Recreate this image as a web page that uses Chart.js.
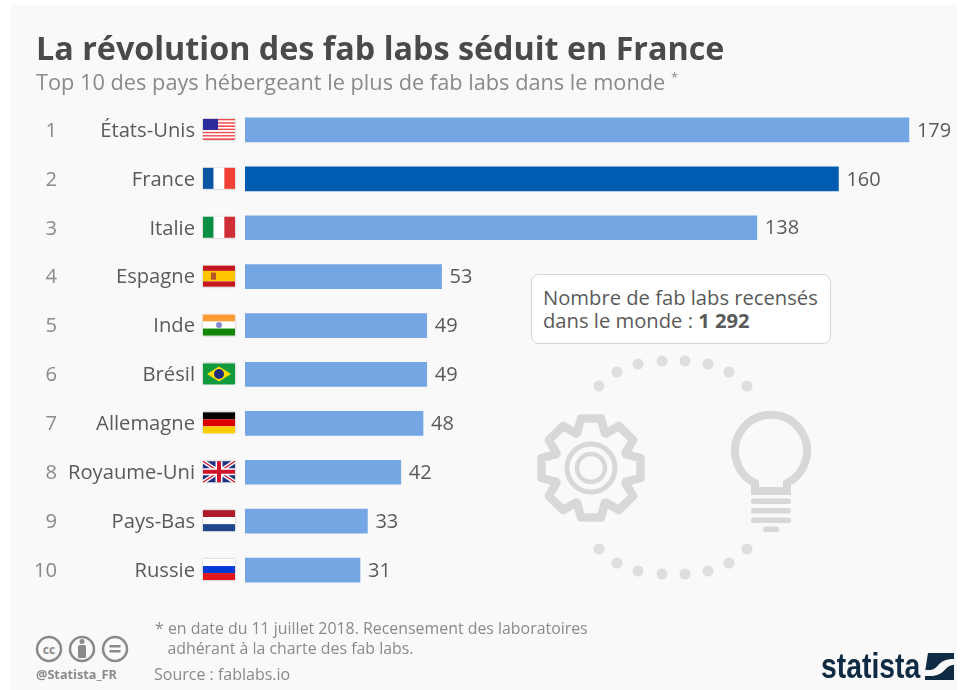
<!DOCTYPE html>
<html lang="fr">
<head>
<meta charset="utf-8">
<title>La révolution des fab labs séduit en France</title>
<script src="https://cdn.jsdelivr.net/npm/chart.js@4"></script>
<style>
    html, body { margin: 0; padding: 0; background: #fff; }
    body { width: 967px; height: 690px; position: relative; overflow: hidden; font-family: "Open Sans", sans-serif; }
    #panel { position: absolute; left: 10px; top: 5px; width: 947px; height: 685px; background: #f9f9f9; }
    #chartBox { position: absolute; left: 0; top: 0; width: 967px; height: 690px; }
    .txt { position: absolute; white-space: nowrap; }
    #title { left: 36px; top: 24.5px; font-size: 32.3px; line-height: 44px; font-weight: 700; color: #4a4a4a; }
    #subtitle { left: 36px; top: 68px; font-size: 21.75px; line-height: 28px; color: #8a8a8a; }
    #callout { position: absolute; left: 531px; top: 274px; width: 298px; height: 68px; box-sizing: content-box; background: #fff; border: 1.5px solid #d4d4d4; border-radius: 8px; }
    #callout div { position: absolute; left: 11px; top: 11px; font-size: 20.2px; line-height: 23px; color: #5a5a5a; white-space: nowrap; }
    #note { left: 155px; top: 619px; font-size: 15.9px; line-height: 19.5px; color: #8a8a8a; }
    #source { left: 154px; top: 663px; font-size: 16px; line-height: 22px; color: #8a8a8a; }
    #handle { left: 36px; top: 666px; font-size: 12.7px; line-height: 16px; font-weight: 700; color: #8a8a8a; }
    #logo { left: 821px; top: 645px; font-family: "Liberation Sans", sans-serif; font-size: 35px; line-height: 42px; font-weight: 700; color: #0f2a43; transform: scaleX(0.81); transform-origin: left center; }
    svg { position: absolute; left: 0; top: 0; }
</style>
</head>
<body>
<div id="panel"></div>
<svg id="deco" width="967" height="690"></svg>
<div id="chartBox"><canvas id="fabChart"></canvas></div>
<div class="txt" id="title">La révolution des fab labs séduit en France</div>
<div class="txt" id="subtitle">Top 10 des pays hébergeant le plus de fab labs dans le monde <sup style="font-size:13px;line-height:0">*</sup></div>
<div id="callout"><div>Nombre de fab labs recensés<br>dans le monde : <b>1 292</b></div></div>
<div class="txt" id="note">* en date du 11 juillet 2018. Recensement des laboratoires<br>&nbsp;&nbsp;&nbsp;adhérant à la charte des fab labs.</div>
<div class="txt" id="source">Source : fablabs.io</div>
<div class="txt" id="handle">@Statista_FR</div>
<div class="txt" id="logo">statista</div>
<script>
var countries = ['États-Unis', 'France', 'Italie', 'Espagne', 'Inde', 'Brésil', 'Allemagne', 'Royaume-Uni', 'Pays-Bas', 'Russie'];
var ranks = ['1', '2', '3', '4', '5', '6', '7', '8', '9', '10'];
var fabLabs = [179, 160, 138, 53, 49, 49, 48, 42, 33, 31];
var highlighted = 'France';

// flag helpers, x/y is the top left corner of a 32x21 flag
function hStripes(c, x, y, cols, weights) {
    var total = weights.reduce(function (a, b) { return a + b; }, 0), cy = y;
    cols.forEach(function (col, i) {
        var h = 21 * weights[i] / total;
        c.fillStyle = col;
        c.fillRect(x, cy, 32, h);
        cy += h;
    });
}
function vStripes(c, x, y, cols) {
    cols.forEach(function (col, i) {
        c.fillStyle = col;
        c.fillRect(x + i * 32 / cols.length, y, 32 / cols.length, 21);
    });
}
var flags = {
    'États-Unis': function (c, x, y) {
        for (var i = 0; i < 13; i++) {
            c.fillStyle = i % 2 ? '#fff' : '#f04a4e';
            c.fillRect(x, y + i * 21 / 13, 32, 21 / 13);
        }
        c.fillStyle = '#2b2c9c';
        c.fillRect(x, y, 15, 11);
    },
    'France': function (c, x, y) { vStripes(c, x, y, ['#0a55a3', '#fff', '#ef4135']); },
    'Italie': function (c, x, y) { vStripes(c, x, y, ['#0b8f45', '#fff', '#cf2e37']); },
    'Espagne': function (c, x, y) {
        hStripes(c, x, y, ['#c4161c', '#fdc400', '#c4161c'], [1, 2, 1]);
        c.fillStyle = '#b5532a';
        c.fillRect(x + 8, y + 7, 5, 7);
    },
    'Inde': function (c, x, y) {
        hStripes(c, x, y, ['#ff9b33', '#fff', '#138808'], [1, 1, 1]);
        c.fillStyle = '#8a8ad0';
        c.beginPath();
        c.arc(x + 16, y + 10.5, 3, 0, Math.PI * 2);
        c.fill();
    },
    'Brésil': function (c, x, y) {
        c.fillStyle = '#0f9a3e';
        c.fillRect(x, y, 32, 21);
        c.fillStyle = '#fedf00';
        c.beginPath();
        c.moveTo(x + 4, y + 10.5);
        c.lineTo(x + 16, y + 3);
        c.lineTo(x + 28, y + 10.5);
        c.lineTo(x + 16, y + 18);
        c.closePath();
        c.fill();
        c.fillStyle = '#1c2f7d';
        c.beginPath();
        c.arc(x + 16, y + 10.5, 5, 0, Math.PI * 2);
        c.fill();
    },
    'Allemagne': function (c, x, y) { hStripes(c, x, y, ['#000', '#dd0000', '#ffce00'], [1, 1, 1]); },
    'Royaume-Uni': function (c, x, y) {
        c.fillStyle = '#1d2f7f';
        c.fillRect(x, y, 32, 21);
        c.strokeStyle = '#fff';
        c.lineWidth = 4;
        c.beginPath();
        c.moveTo(x, y); c.lineTo(x + 32, y + 21);
        c.moveTo(x + 32, y); c.lineTo(x, y + 21);
        c.stroke();
        c.strokeStyle = '#cf142b';
        c.lineWidth = 1.4;
        c.stroke();
        c.fillStyle = '#fff';
        c.fillRect(x + 12.5, y, 7, 21);
        c.fillRect(x, y + 7, 32, 7);
        c.fillStyle = '#cf142b';
        c.fillRect(x + 14, y, 4, 21);
        c.fillRect(x, y + 8.5, 32, 4);
    },
    'Pays-Bas': function (c, x, y) { hStripes(c, x, y, ['#ae1c28', '#fff', '#21468b'], [1, 1, 1]); },
    'Russie': function (c, x, y) { hStripes(c, x, y, ['#fff', '#0039d6', '#e4181c'], [1, 1, 1]); }
};

// rank numbers, country names, flags and value labels next to each bar
var rowExtras = {
    id: 'rowExtras',
    afterDatasetsDraw: function (chart) {
        var c = chart.ctx, yScale = chart.scales.y, xScale = chart.scales.x;
        c.save();
        c.textBaseline = 'middle';
        countries.forEach(function (name, i) {
            var py = yScale.getPixelForValue(i);
            c.font = '20.2px "Open Sans"';
            c.textAlign = 'right';
            c.fillStyle = '#8a8a8a';
            c.fillText(ranks[i], 57, py + 1);

            c.fillStyle = '#5a5a5a';
            c.fillText(yScale.getLabelForValue(i), 195, py + 1);

            c.save();
            c.shadowColor = 'rgba(0,0,0,0.3)';
            c.shadowBlur = 2;
            c.fillStyle = '#fff';
            c.fillRect(203, py - 11, 32, 21);
            c.restore();
            flags[name](c, 203, py - 11);

            c.textAlign = 'left';
            c.fillStyle = '#5a5a5a';
            c.font = '20px "Open Sans"';
            c.fillText(fabLabs[i], xScale.getPixelForValue(fabLabs[i]) + 8, py + 1);
        });
        c.restore();
    }
};

document.addEventListener("DOMContentLoaded", function () {
    var ctx = document.getElementById('fabChart').getContext('2d');
    new Chart(ctx, {
        type: 'bar',
        data: {
            labels: countries,
            datasets: [{
                label: 'Fab labs',
                data: fabLabs,
                backgroundColor: countries.map(function (n) { return n === highlighted ? '#005cb0' : '#75a6e4'; }),
                barThickness: 24
            }]
        },
        options: {
            indexAxis: 'y',
            responsive: true,
            maintainAspectRatio: false,
            animation: false,
            layout: { padding: { left: 0, top: 105.5, right: 17.3, bottom: 95.5 } },
            plugins: { legend: { display: false }, tooltip: { enabled: false } },
            scales: {
                x: { display: false, min: 0, max: 190 },
                y: {
                    border: { display: false },
                    grid: { display: false, drawTicks: false },
                    afterFit: function (scale) { scale.width = 245; },
                    ticks: { display: false }
                }
            }
        },
        plugins: [rowExtras]
    });

    // decoration: dots ring, gear, bulb, cc icons, logo mark
    var deco = document.getElementById('deco'), html = '';
    [[662,361],[685,361],[708,364],[729,372],[747,386],[638,364],[617,372],[599,386],
     [662,574],[685,574],[708,571],[729,563],[747,549],[638,571],[617,563],[599,549]].forEach(function (d) {
        html += '<circle cx="' + d[0] + '" cy="' + d[1] + '" r="5.5" fill="#dedede"/>';
    });
    // gear outline, 8 teeth
    var gx = 591, gy = 468, pts = [];
    for (var i = 0; i < 8; i++) {
        var a = i * Math.PI / 4 - Math.PI / 2;
        [[-0.38, 37.5], [-0.2, 50.5], [0.2, 50.5], [0.38, 37.5]].forEach(function (p) {
            pts.push((gx + p[1] * Math.cos(a + p[0])).toFixed(1) + ',' + (gy + p[1] * Math.sin(a + p[0])).toFixed(1));
        });
    }
    html += '<polygon points="' + pts.join(' ') + '" fill="none" stroke="#d8d8d8" stroke-width="8.5" stroke-linejoin="round"/>';
    html += '<circle cx="591" cy="468" r="24" fill="none" stroke="#d8d8d8" stroke-width="5"/>';
    html += '<circle cx="591" cy="468" r="14" fill="none" stroke="#d8d8d8" stroke-width="4.5"/>';
    // bulb
    html += '<path d="M755 491 V483 A36 36 0 1 1 787 483 V491 Z" fill="none" stroke="#d8d8d8" stroke-width="8"/>';
    [498.5, 508, 517.5].forEach(function (y) {
        html += '<rect x="751" y="' + y + '" width="40" height="5.5" rx="2.5" fill="#d8d8d8"/>';
    });
    html += '<rect x="763" y="526.5" width="16" height="5.5" rx="2.5" fill="#d8d8d8"/>';
    // cc icons
    [49, 82, 115].forEach(function (x) {
        html += '<circle cx="' + x + '" cy="649" r="12" fill="#f9f9f9" stroke="#8a8a8a" stroke-width="2.5"/>';
    });
    html += '<text x="49" y="653.5" text-anchor="middle" font-family="Open Sans" font-weight="700" font-size="12" fill="#8a8a8a">cc</text>';
    html += '<circle cx="82" cy="641.5" r="2.5" fill="#8a8a8a"/><rect x="78" y="645" width="8" height="13" rx="1.5" fill="#8a8a8a"/>';
    html += '<rect x="109.5" y="645" width="11" height="2.5" fill="#8a8a8a"/><rect x="109.5" y="650" width="11" height="2.5" fill="#8a8a8a"/>';
    // logo mark
    html += '<path d="M928 653 H954 V680 H925 V672 Z" fill="#0f2a43"/>';
    html += '<path d="M925 670 H929 C940 670 936 659 954 659 V665 C944 665 946 676 930 676 H925 Z" fill="#f9f9f9"/>';
    deco.innerHTML = html;
});
</script>
</body>
</html>
